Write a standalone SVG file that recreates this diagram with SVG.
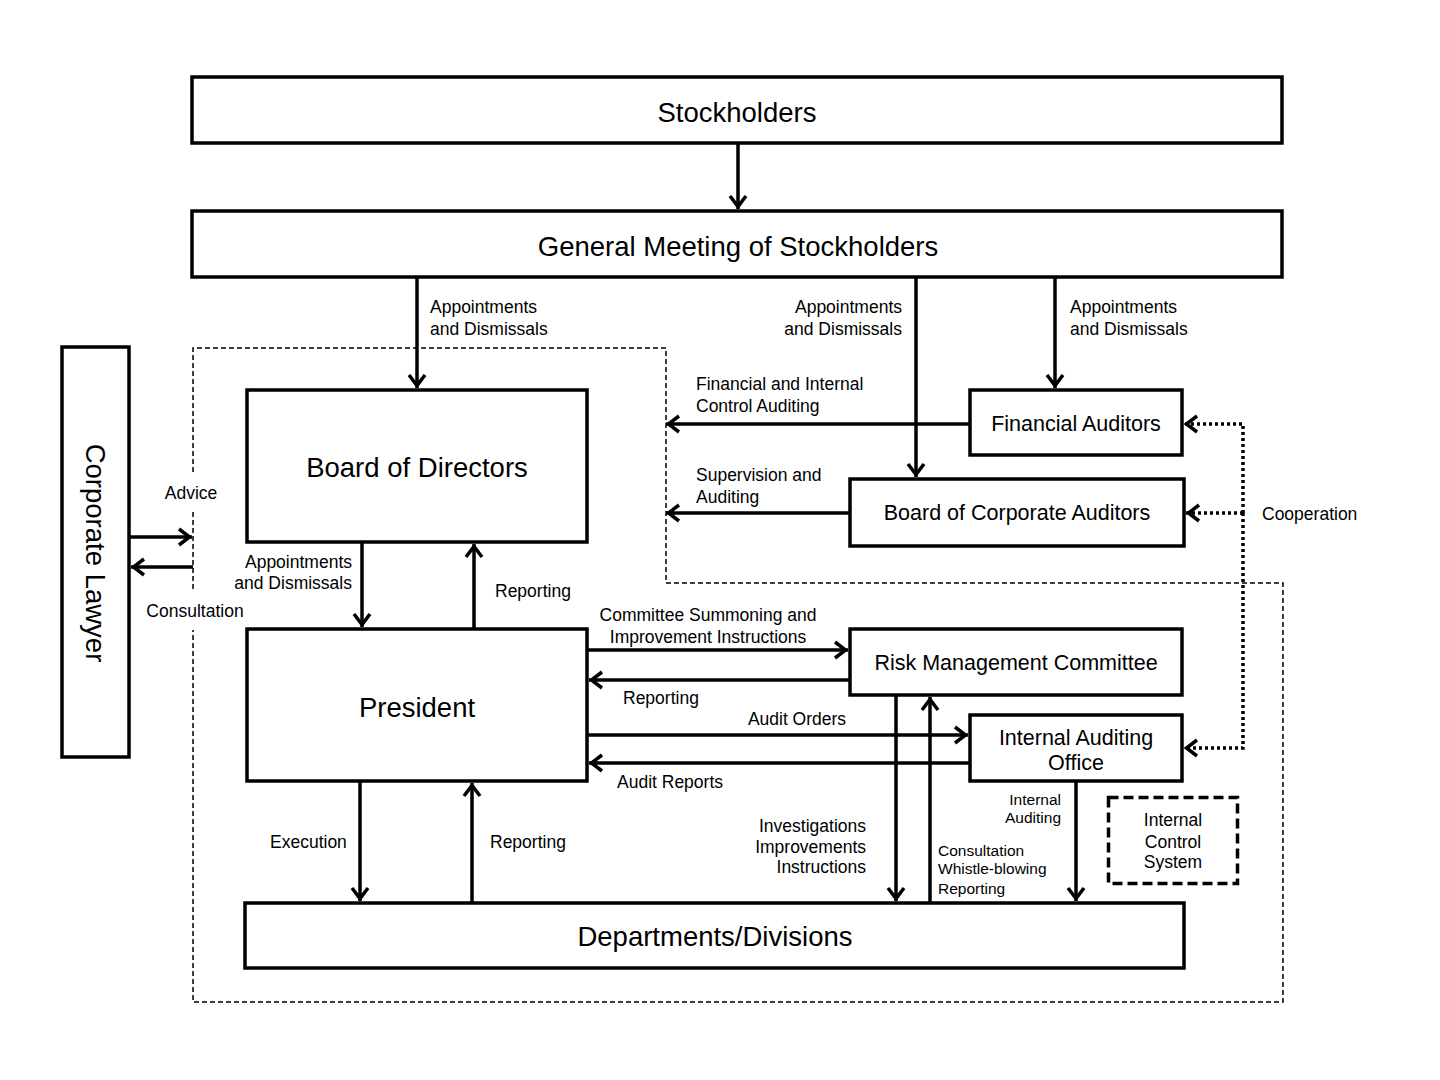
<svg xmlns="http://www.w3.org/2000/svg" width="1440" height="1080" viewBox="0 0 1440 1080">
<style>
text{font-family:"Liberation Sans",Arial,sans-serif;fill:#000;dominant-baseline:central}
.box{fill:#fff;stroke:#000;stroke-width:3.5}
.big{font-size:27.5px;text-anchor:middle}
.mid{font-size:21.5px;text-anchor:middle}
.lbl{font-size:17.5px}
.sm{font-size:15.5px}
.c{text-anchor:middle}
.r{text-anchor:end}
.arr{stroke:#000;stroke-width:3.5;fill:none;marker-end:url(#ah)}
.dot{stroke:#000;stroke-width:3.5;fill:none;stroke-dasharray:3 3;marker-end:url(#ah)}
.bound{stroke:#000;stroke-width:1.5;fill:none;stroke-dasharray:5 3}
</style>
<defs>
<marker id="ah" markerUnits="userSpaceOnUse" markerWidth="20" markerHeight="20" viewBox="0 0 20 20" refX="15" refY="10" orient="auto">
<path d="M2,2 L12.5,10 L2,18" fill="none" stroke="#000" stroke-width="3.5" stroke-dasharray="none" stroke-linejoin="miter"/>
</marker>
</defs>
<rect width="1440" height="1080" fill="#fff"/>

<g id="boundary">
<path class="bound" d="M193,472 L193,348 L666,348 L666,583 L1283,583 L1283,1002 L193,1002 L193,630"/>
<path class="bound" d="M193,512 L193,590"/>
</g>

<g id="connectors">
<line class="arr" x1="738" y1="144" x2="738" y2="209"/>
<line class="arr" x1="417" y1="277" x2="417" y2="388"/>
<line class="arr" x1="916" y1="277" x2="916" y2="477"/>
<line class="arr" x1="1055" y1="277" x2="1055" y2="388"/>
<line class="arr" x1="130" y1="537" x2="192" y2="537"/>
<line class="arr" x1="193" y1="567" x2="131" y2="567"/>
<line class="arr" x1="362" y1="542" x2="362" y2="627"/>
<line class="arr" x1="474" y1="629" x2="474" y2="544"/>
<line class="arr" x1="970" y1="424" x2="666" y2="424"/>
<line class="arr" x1="850" y1="513" x2="666" y2="513"/>
<line class="arr" x1="587" y1="650" x2="848" y2="650"/>
<line class="arr" x1="850" y1="680" x2="589" y2="680"/>
<line class="arr" x1="587" y1="735" x2="968" y2="735"/>
<line class="arr" x1="970" y1="763" x2="589" y2="763"/>
<line class="arr" x1="360" y1="781" x2="360" y2="901"/>
<line class="arr" x1="472" y1="903" x2="472" y2="783"/>
<line class="arr" x1="896" y1="695" x2="896" y2="901"/>
<line class="arr" x1="930" y1="903" x2="930" y2="697"/>
<line class="arr" x1="1076" y1="781" x2="1076" y2="901"/>
<path class="dot" d="M1243,513 L1243,424 L1184,424"/>
<path class="dot" d="M1243,513 L1186,513"/>
<path class="dot" d="M1243,513 L1243,748 L1184,748"/>
</g>

<g id="stockholders"><rect class="box" x="192" y="77" width="1090" height="66"/><text class="big" x="737" y="112">Stockholders</text></g>
<g id="gms"><rect class="box" x="192" y="211" width="1090" height="66"/><text class="big" x="738" y="246">General Meeting of Stockholders</text></g>
<g id="lawyer"><rect class="box" x="62" y="347" width="67" height="410"/><text class="big" transform="translate(95,553) rotate(90)" x="0" y="0">Corporate Lawyer</text></g>
<g id="bod"><rect class="box" x="247" y="390" width="340" height="152"/><text class="big" x="417" y="467">Board of Directors</text></g>
<g id="president"><rect class="box" x="247" y="629" width="340" height="152"/><text class="big" x="417" y="707">President</text></g>
<g id="departments"><rect class="box" x="245" y="903" width="939" height="65"/><text class="big" x="715" y="936">Departments/Divisions</text></g>
<g id="fa"><rect class="box" x="970" y="390" width="212" height="65"/><text class="mid" x="1076" y="424">Financial Auditors</text></g>
<g id="bca"><rect class="box" x="850" y="479" width="334" height="67"/><text class="mid" x="1017" y="513">Board of Corporate Auditors</text></g>
<g id="rmc"><rect class="box" x="850" y="629" width="332" height="66"/><text class="mid" x="1016" y="663">Risk Management Committee</text></g>
<g id="iao"><rect class="box" x="970" y="715" width="212" height="66"/><text class="mid" x="1076" y="738">Internal Auditing</text><text class="mid" x="1076" y="763">Office</text></g>
<g id="ics"><rect x="1108.5" y="797.5" width="129" height="86" fill="none" stroke="#000" stroke-width="3.5" stroke-dasharray="10 5"/><text class="lbl c" x="1173" y="820">Internal</text><text class="lbl c" x="1173" y="842">Control</text><text class="lbl c" x="1173" y="862">System</text></g>

<g id="labels">
<text class="lbl" x="430" y="307">Appointments</text><text class="lbl" x="430" y="329">and Dismissals</text>
<text class="lbl r" x="902" y="307">Appointments</text><text class="lbl r" x="902" y="329">and Dismissals</text>
<text class="lbl" x="1070" y="307">Appointments</text><text class="lbl" x="1070" y="329">and Dismissals</text>
<text class="lbl c" x="191" y="493">Advice</text>
<text class="lbl c" x="195" y="611">Consultation</text>
<text class="lbl r" x="352" y="562">Appointments</text><text class="lbl r" x="352" y="583">and Dismissals</text>
<text class="lbl" x="495" y="591">Reporting</text>
<text class="lbl" x="696" y="384">Financial and Internal</text><text class="lbl" x="696" y="406">Control Auditing</text>
<text class="lbl" x="696" y="475">Supervision and</text><text class="lbl" x="696" y="497">Auditing</text>
<text class="lbl" x="1262" y="514">Cooperation</text>
<text class="lbl c" x="708" y="615">Committee Summoning and</text><text class="lbl c" x="708" y="637">Improvement Instructions</text>
<text class="lbl" x="623" y="698">Reporting</text>
<text class="lbl c" x="797" y="719">Audit Orders</text>
<text class="lbl" x="617" y="782">Audit Reports</text>
<text class="lbl" x="270" y="842">Execution</text>
<text class="lbl" x="490" y="842">Reporting</text>
<text class="lbl r" x="866" y="826">Investigations</text><text class="lbl r" x="866" y="847">Improvements</text><text class="lbl r" x="866" y="867">Instructions</text>
<text class="sm" x="938" y="850">Consultation</text><text class="sm" x="938" y="868">Whistle-blowing</text><text class="sm" x="938" y="888">Reporting</text>
<text class="sm r" x="1061" y="799">Internal</text><text class="sm r" x="1061" y="817">Auditing</text>
</g>
</svg>
